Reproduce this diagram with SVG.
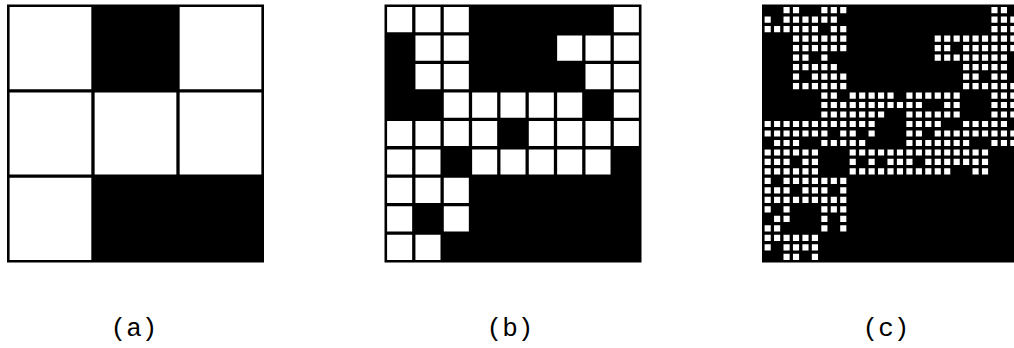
<svg xmlns="http://www.w3.org/2000/svg" width="1014" height="348" viewBox="0 0 1014 348">
<style>
.bg{fill:#000}
.w{fill:#fff}
.lbl{font-family:"Liberation Mono","Courier New",monospace;font-size:26px;fill:#000;text-anchor:middle}
</style>
<rect width="1014" height="348" fill="#fff"/>
<g id="panel-a">
<rect class="bg" x="7" y="4.5" width="257" height="258"/>
<g transform="translate(9.6,7.1) scale(85.03,85.37)">
<path class="w" d="M0 0h.961v.961h-.961zM2 0h.961v.961h-.961zM0 1h.961v.961h-.961zM1 1h.961v.961h-.961zM2 1h.961v.961h-.961zM0 2h.961v.961h-.961z"/>
</g>
</g>
<g id="panel-b">
<rect class="bg" x="384.5" y="4.5" width="257" height="258"/>
<g transform="translate(387.1,7.1) scale(28.34,28.46)">
<path class="w" d="M0 0h.884v.884h-.884zM1 0h.884v.884h-.884zM2 0h.884v.884h-.884zM8 0h.884v.884h-.884z
M1 1h.884v.884h-.884zM2 1h.884v.884h-.884zM6 1h.884v.884h-.884zM7 1h.884v.884h-.884zM8 1h.884v.884h-.884z
M1 2h.884v.884h-.884zM2 2h.884v.884h-.884zM7 2h.884v.884h-.884zM8 2h.884v.884h-.884z
M2 3h.884v.884h-.884zM3 3h.884v.884h-.884zM4 3h.884v.884h-.884zM5 3h.884v.884h-.884zM6 3h.884v.884h-.884zM8 3h.884v.884h-.884z
M0 4h.884v.884h-.884zM1 4h.884v.884h-.884zM2 4h.884v.884h-.884zM3 4h.884v.884h-.884zM5 4h.884v.884h-.884zM6 4h.884v.884h-.884zM7 4h.884v.884h-.884zM8 4h.884v.884h-.884z
M0 5h.884v.884h-.884zM1 5h.884v.884h-.884zM3 5h.884v.884h-.884zM4 5h.884v.884h-.884zM5 5h.884v.884h-.884zM6 5h.884v.884h-.884zM7 5h.884v.884h-.884z
M0 6h.884v.884h-.884zM1 6h.884v.884h-.884zM2 6h.884v.884h-.884z
M0 7h.884v.884h-.884zM2 7h.884v.884h-.884z
M0 8h.884v.884h-.884zM1 8h.884v.884h-.884z"/>
</g>
</g>
<g id="panel-c">
<rect class="bg" x="762" y="4.5" width="257" height="258"/>
<g transform="translate(764.6,7.1) scale(9.45,9.485)">
<path class="w" d="M2 0h.65v.65h-.65zM3 0h.65v.65h-.65zM6 0h.65v.65h-.65zM7 0h.65v.65h-.65zM8 0h.65v.65h-.65zM24 0h.65v.65h-.65zM25 0h.65v.65h-.65z
M0 1h.65v.65h-.65zM2 1h.65v.65h-.65zM3 1h.65v.65h-.65zM4 1h.65v.65h-.65zM5 1h.65v.65h-.65zM6 1h.65v.65h-.65zM7 1h.65v.65h-.65zM24 1h.65v.65h-.65zM25 1h.65v.65h-.65zM26 1h.65v.65h-.65z
M0 2h.65v.65h-.65zM1 2h.65v.65h-.65zM2 2h.65v.65h-.65zM3 2h.65v.65h-.65zM4 2h.65v.65h-.65zM5 2h.65v.65h-.65zM7 2h.65v.65h-.65zM8 2h.65v.65h-.65zM24 2h.65v.65h-.65zM25 2h.65v.65h-.65zM26 2h.65v.65h-.65z
M3 3h.65v.65h-.65zM4 3h.65v.65h-.65zM5 3h.65v.65h-.65zM6 3h.65v.65h-.65zM7 3h.65v.65h-.65zM8 3h.65v.65h-.65zM18 3h.65v.65h-.65zM19 3h.65v.65h-.65zM20 3h.65v.65h-.65zM21 3h.65v.65h-.65zM22 3h.65v.65h-.65zM23 3h.65v.65h-.65zM24 3h.65v.65h-.65zM25 3h.65v.65h-.65zM26 3h.65v.65h-.65z
M3 4h.65v.65h-.65zM4 4h.65v.65h-.65zM5 4h.65v.65h-.65zM6 4h.65v.65h-.65zM7 4h.65v.65h-.65zM8 4h.65v.65h-.65zM18 4h.65v.65h-.65zM19 4h.65v.65h-.65zM21 4h.65v.65h-.65zM22 4h.65v.65h-.65zM23 4h.65v.65h-.65zM24 4h.65v.65h-.65zM25 4h.65v.65h-.65zM26 4h.65v.65h-.65z
M3 5h.65v.65h-.65zM4 5h.65v.65h-.65zM6 5h.65v.65h-.65zM18 5h.65v.65h-.65zM19 5h.65v.65h-.65zM20 5h.65v.65h-.65zM21 5h.65v.65h-.65zM22 5h.65v.65h-.65zM23 5h.65v.65h-.65zM24 5h.65v.65h-.65zM25 5h.65v.65h-.65z
M3 6h.65v.65h-.65zM4 6h.65v.65h-.65zM5 6h.65v.65h-.65zM6 6h.65v.65h-.65zM7 6h.65v.65h-.65zM21 6h.65v.65h-.65zM22 6h.65v.65h-.65zM23 6h.65v.65h-.65zM24 6h.65v.65h-.65zM25 6h.65v.65h-.65z
M3 7h.65v.65h-.65zM5 7h.65v.65h-.65zM6 7h.65v.65h-.65zM7 7h.65v.65h-.65zM8 7h.65v.65h-.65zM21 7h.65v.65h-.65zM22 7h.65v.65h-.65zM24 7h.65v.65h-.65zM25 7h.65v.65h-.65z
M3 8h.65v.65h-.65zM4 8h.65v.65h-.65zM5 8h.65v.65h-.65zM6 8h.65v.65h-.65zM7 8h.65v.65h-.65zM8 8h.65v.65h-.65zM21 8h.65v.65h-.65zM22 8h.65v.65h-.65zM23 8h.65v.65h-.65zM24 8h.65v.65h-.65zM25 8h.65v.65h-.65zM26 8h.65v.65h-.65z
M6 9h.65v.65h-.65zM7 9h.65v.65h-.65zM9 9h.65v.65h-.65zM10 9h.65v.65h-.65zM11 9h.65v.65h-.65zM12 9h.65v.65h-.65zM13 9h.65v.65h-.65zM15 9h.65v.65h-.65zM16 9h.65v.65h-.65zM17 9h.65v.65h-.65zM18 9h.65v.65h-.65zM19 9h.65v.65h-.65zM20 9h.65v.65h-.65zM24 9h.65v.65h-.65zM25 9h.65v.65h-.65zM26 9h.65v.65h-.65z
M6 10h.65v.65h-.65zM7 10h.65v.65h-.65zM8 10h.65v.65h-.65zM9 10h.65v.65h-.65zM10 10h.65v.65h-.65zM11 10h.65v.65h-.65zM12 10h.65v.65h-.65zM13 10h.65v.65h-.65zM14 10h.65v.65h-.65zM15 10h.65v.65h-.65zM16 10h.65v.65h-.65zM19 10h.65v.65h-.65zM20 10h.65v.65h-.65zM24 10h.65v.65h-.65zM25 10h.65v.65h-.65zM26 10h.65v.65h-.65z
M6 11h.65v.65h-.65zM7 11h.65v.65h-.65zM8 11h.65v.65h-.65zM9 11h.65v.65h-.65zM10 11h.65v.65h-.65zM11 11h.65v.65h-.65zM12 11h.65v.65h-.65zM15 11h.65v.65h-.65zM16 11h.65v.65h-.65zM17 11h.65v.65h-.65zM18 11h.65v.65h-.65zM19 11h.65v.65h-.65zM20 11h.65v.65h-.65zM24 11h.65v.65h-.65zM25 11h.65v.65h-.65zM26 11h.65v.65h-.65z
M0 12h.65v.65h-.65zM1 12h.65v.65h-.65zM2 12h.65v.65h-.65zM3 12h.65v.65h-.65zM4 12h.65v.65h-.65zM5 12h.65v.65h-.65zM6 12h.65v.65h-.65zM7 12h.65v.65h-.65zM8 12h.65v.65h-.65zM9 12h.65v.65h-.65zM10 12h.65v.65h-.65zM11 12h.65v.65h-.65zM15 12h.65v.65h-.65zM16 12h.65v.65h-.65zM17 12h.65v.65h-.65zM18 12h.65v.65h-.65zM21 12h.65v.65h-.65zM22 12h.65v.65h-.65zM23 12h.65v.65h-.65zM24 12h.65v.65h-.65zM25 12h.65v.65h-.65z
M0 13h.65v.65h-.65zM1 13h.65v.65h-.65zM2 13h.65v.65h-.65zM3 13h.65v.65h-.65zM4 13h.65v.65h-.65zM5 13h.65v.65h-.65zM6 13h.65v.65h-.65zM8 13h.65v.65h-.65zM9 13h.65v.65h-.65zM11 13h.65v.65h-.65zM15 13h.65v.65h-.65zM16 13h.65v.65h-.65zM18 13h.65v.65h-.65zM19 13h.65v.65h-.65zM20 13h.65v.65h-.65zM21 13h.65v.65h-.65zM22 13h.65v.65h-.65zM23 13h.65v.65h-.65zM24 13h.65v.65h-.65zM25 13h.65v.65h-.65zM26 13h.65v.65h-.65z
M1 14h.65v.65h-.65zM2 14h.65v.65h-.65zM3 14h.65v.65h-.65zM6 14h.65v.65h-.65zM7 14h.65v.65h-.65zM8 14h.65v.65h-.65zM9 14h.65v.65h-.65zM10 14h.65v.65h-.65zM15 14h.65v.65h-.65zM16 14h.65v.65h-.65zM17 14h.65v.65h-.65zM18 14h.65v.65h-.65zM19 14h.65v.65h-.65zM20 14h.65v.65h-.65zM21 14h.65v.65h-.65zM24 14h.65v.65h-.65zM25 14h.65v.65h-.65zM26 14h.65v.65h-.65z
M0 15h.65v.65h-.65zM1 15h.65v.65h-.65zM2 15h.65v.65h-.65zM3 15h.65v.65h-.65zM4 15h.65v.65h-.65zM5 15h.65v.65h-.65zM9 15h.65v.65h-.65zM10 15h.65v.65h-.65zM11 15h.65v.65h-.65zM12 15h.65v.65h-.65zM13 15h.65v.65h-.65zM14 15h.65v.65h-.65zM15 15h.65v.65h-.65zM16 15h.65v.65h-.65zM17 15h.65v.65h-.65zM18 15h.65v.65h-.65zM19 15h.65v.65h-.65zM20 15h.65v.65h-.65zM21 15h.65v.65h-.65zM22 15h.65v.65h-.65zM23 15h.65v.65h-.65z
M0 16h.65v.65h-.65zM1 16h.65v.65h-.65zM2 16h.65v.65h-.65zM4 16h.65v.65h-.65zM5 16h.65v.65h-.65zM9 16h.65v.65h-.65zM11 16h.65v.65h-.65zM13 16h.65v.65h-.65zM14 16h.65v.65h-.65zM15 16h.65v.65h-.65zM17 16h.65v.65h-.65zM18 16h.65v.65h-.65zM19 16h.65v.65h-.65zM20 16h.65v.65h-.65zM21 16h.65v.65h-.65zM22 16h.65v.65h-.65zM23 16h.65v.65h-.65z
M0 17h.65v.65h-.65zM1 17h.65v.65h-.65zM2 17h.65v.65h-.65zM3 17h.65v.65h-.65zM4 17h.65v.65h-.65zM5 17h.65v.65h-.65zM9 17h.65v.65h-.65zM10 17h.65v.65h-.65zM11 17h.65v.65h-.65zM12 17h.65v.65h-.65zM13 17h.65v.65h-.65zM14 17h.65v.65h-.65zM15 17h.65v.65h-.65zM16 17h.65v.65h-.65zM17 17h.65v.65h-.65zM18 17h.65v.65h-.65zM19 17h.65v.65h-.65zM22 17h.65v.65h-.65zM23 17h.65v.65h-.65z
M0 18h.65v.65h-.65zM2 18h.65v.65h-.65zM3 18h.65v.65h-.65zM4 18h.65v.65h-.65zM5 18h.65v.65h-.65zM6 18h.65v.65h-.65zM7 18h.65v.65h-.65zM8 18h.65v.65h-.65z
M0 19h.65v.65h-.65zM1 19h.65v.65h-.65zM2 19h.65v.65h-.65zM4 19h.65v.65h-.65zM5 19h.65v.65h-.65zM6 19h.65v.65h-.65zM8 19h.65v.65h-.65z
M0 20h.65v.65h-.65zM1 20h.65v.65h-.65zM2 20h.65v.65h-.65zM3 20h.65v.65h-.65zM4 20h.65v.65h-.65zM5 20h.65v.65h-.65zM6 20h.65v.65h-.65zM7 20h.65v.65h-.65zM8 20h.65v.65h-.65z
M0 21h.65v.65h-.65zM2 21h.65v.65h-.65zM6 21h.65v.65h-.65zM7 21h.65v.65h-.65zM8 21h.65v.65h-.65z
M1 22h.65v.65h-.65zM2 22h.65v.65h-.65zM6 22h.65v.65h-.65zM8 22h.65v.65h-.65z
M0 23h.65v.65h-.65zM1 23h.65v.65h-.65zM6 23h.65v.65h-.65zM8 23h.65v.65h-.65z
M0 24h.65v.65h-.65zM1 24h.65v.65h-.65zM2 24h.65v.65h-.65zM3 24h.65v.65h-.65zM4 24h.65v.65h-.65zM5 24h.65v.65h-.65z
M0 25h.65v.65h-.65zM2 25h.65v.65h-.65zM3 25h.65v.65h-.65zM4 25h.65v.65h-.65zM5 25h.65v.65h-.65z
M2 26h.65v.65h-.65zM3 26h.65v.65h-.65zM5 26h.65v.65h-.65z"/>
</g>
</g>
<g id="connectors"/>
<g id="labels">
<text class="lbl" x="134" y="336">(a)</text>
<text class="lbl" x="510" y="336">(b)</text>
<text class="lbl" x="886" y="336">(c)</text>
</g>
</svg>
